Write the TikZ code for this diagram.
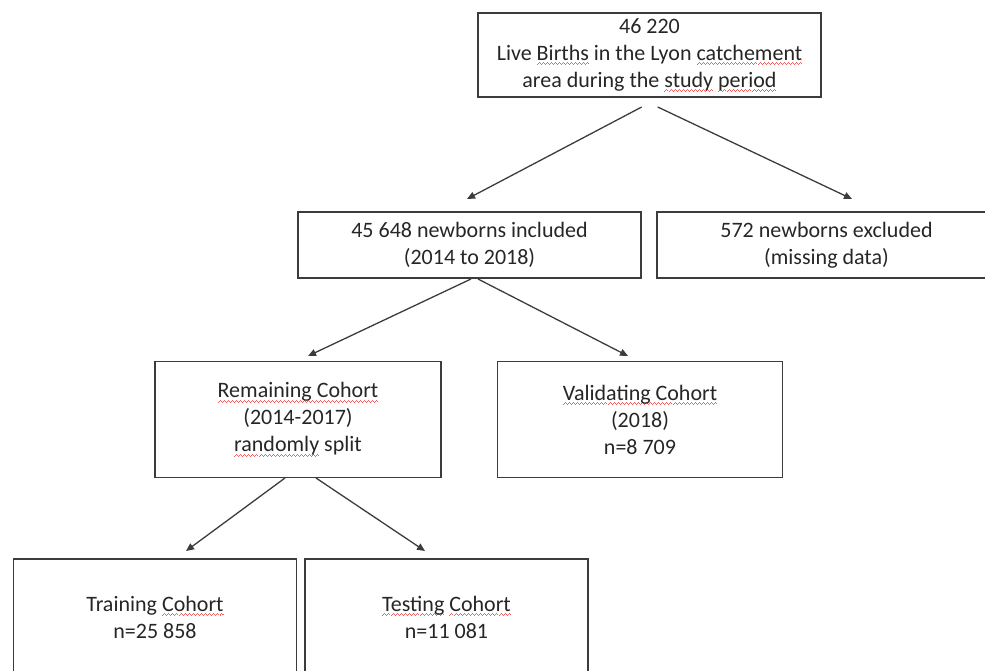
\documentclass[tikz,border=0pt]{standalone}
\usepackage{fontspec}
\setmainfont{Carlito}
\usetikzlibrary{arrows.meta}
\definecolor{txt}{HTML}{262626}
\definecolor{ln}{HTML}{3C3C3C}
\definecolor{sqc}{HTML}{F06060}
\newlength\sqw
\newcommand\wv{\hbox{\rule[0pt]{1pt}{0.9pt}\rule[0.9pt]{1pt}{0.9pt}\rule[1.8pt]{1pt}{0.9pt}\rule[0.9pt]{1pt}{0.9pt}}}
\newcommand\sq[1]{\settowidth\sqw{#1}\rlap{\raisebox{-4.6pt}{\hbox to\sqw{\color{sqc}\xleaders\wv\hfil}}}#1}
\begin{document}
\begin{tikzpicture}[x=1pt,y=-1pt,
  box/.style={draw=ln, line width=1.5pt, rectangle, align=center, text=txt,
    inner sep=0pt, font=\fontsize{22}{27}\selectfont},
  conn/.style={draw=ln, line width=1.3pt, -{Triangle[length=8pt,width=7pt]}}]
\useasboundingbox (0,0) rectangle (985,671);
\node[box, minimum width=343pt, minimum height=84pt] (top) at (649.5,55)
  {46 220\\Live \sq{Births} in the Lyon \sq{catchement}\\area during the \sq{study} \sq{period}};
\node[box, minimum width=343pt, minimum height=66pt] (incl) at (469.5,245)
  {45 648 newborns included\\(2014 to 2018)};
\node[box, minimum width=339pt, minimum height=66pt] (excl) at (826.5,245)
  {572 newborns excluded\\(missing data)};
\node[box, minimum width=286pt, minimum height=115.6pt] (rem) at (298,419.5)
  {\sq{Remaining Cohort}\\(2014-2017)\\\sq{randomly} split};
\node[box, minimum width=285.4pt, minimum height=115.6pt] (val) at (640,419.5)
  {\sq{Validating Cohort}\\(2018)\\n=8 709};
\node[box, minimum width=283.4pt, minimum height=116pt] (train) at (155,617)
  {Training \sq{Cohort}\\n=25 858};
\node[box, minimum width=283.4pt, minimum height=116pt] (test) at (446.5,617)
  {\sq{Testing} \sq{Cohort}\\n=11 081};
% connector end points
\coordinate (s1) at (641.7,107);
\coordinate (s2) at (657.7,107);
\coordinate (t1) at (467,199);
\coordinate (t2) at (852,199);
\coordinate (s3) at (471,279);
\coordinate (s4) at (478,279);
\coordinate (t3) at (308,356);
\coordinate (t4) at (628,356);
\coordinate (s5) at (285,478);
\coordinate (s6) at (316,478);
\coordinate (t5) at (186,551);
\coordinate (t6) at (425,551);
\draw[conn] (s1) -- (t1);
\draw[conn] (s2) -- (t2);
\draw[conn] (s3) -- (t3);
\draw[conn] (s4) -- (t4);
\draw[conn] (s5) -- (t5);
\draw[conn] (s6) -- (t6);
\end{tikzpicture}
\end{document}
